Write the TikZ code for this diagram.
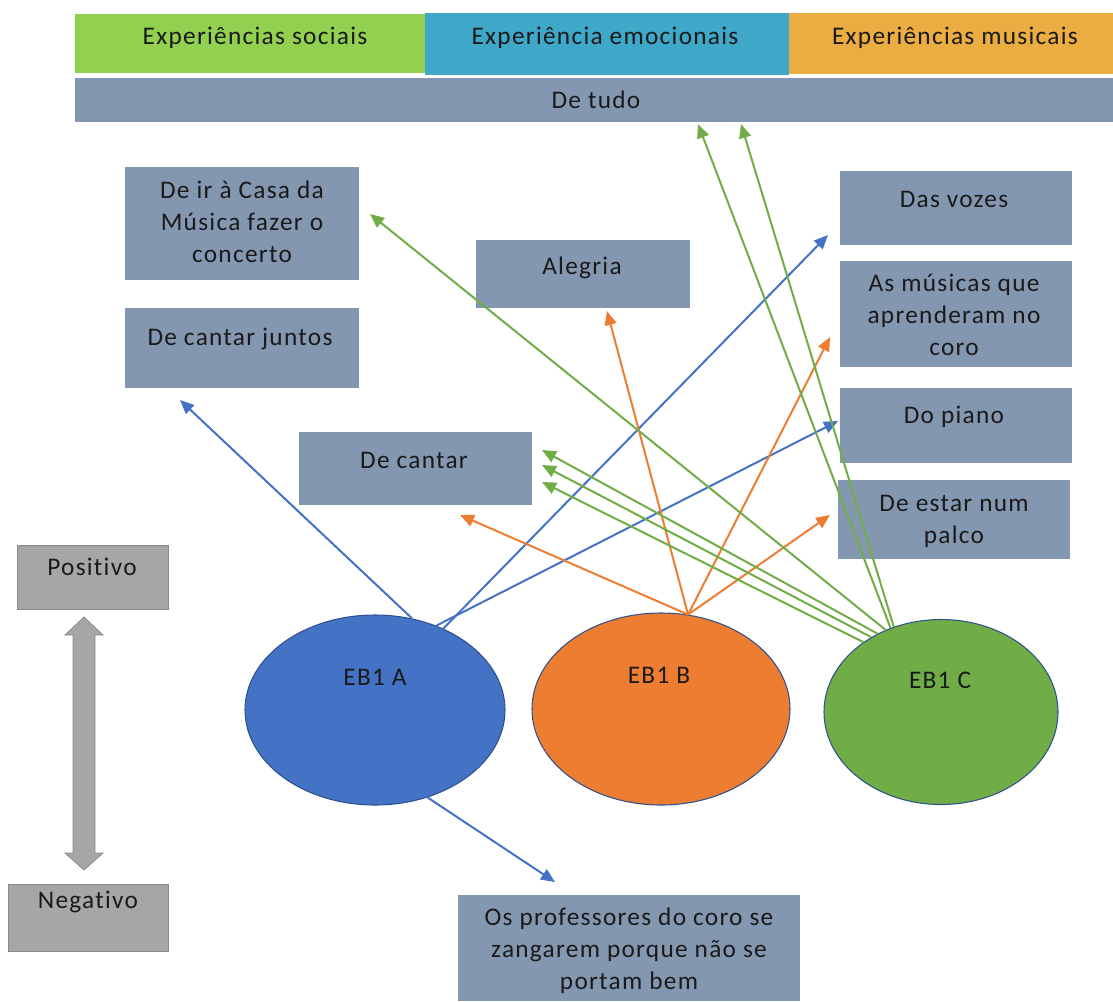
\documentclass[tikz,border=0pt]{standalone}
\usepackage{fontspec}
\setmainfont{Carlito}[LetterSpace=5, Ligatures={NoCommon}]
\usetikzlibrary{arrows.meta,shapes.geometric,fit}

\definecolor{boxgray}{HTML}{8497B0}
\definecolor{socialgreen}{HTML}{92D050}
\definecolor{emoblue}{HTML}{3FA7C7}
\definecolor{musicorange}{HTML}{EBAC42}
\definecolor{scalegray}{HTML}{A6A6A6}
\definecolor{scaleedge}{HTML}{8A8A8A}
\definecolor{groupA}{HTML}{4472C4}
\definecolor{groupB}{HTML}{ED7D31}
\definecolor{groupC}{HTML}{70AD47}
\definecolor{rimblue}{HTML}{2F528F}
\definecolor{ink}{HTML}{1A1A1A}

\tikzset{
  x=0.75pt, y=-0.75pt,
  box/.style={fill=boxgray, inner sep=0pt, outer sep=0pt},
  band/.style={inner sep=0pt, outer sep=0pt},
  graybox/.style={fill=scalegray, draw=scaleedge, line width=0.6pt, inner sep=0pt},
  txt/.style={anchor=base, text=ink, align=center, inner sep=0pt,
    font=\fontsize{19}{24}\selectfont},
  group/.style={ellipse, draw=rimblue, line width=0.8pt, inner sep=0pt},
  link/.style={line width=1.5pt, -{Triangle[length=10.5pt,width=9pt]}},
}

\begin{document}
\begin{tikzpicture}
\useasboundingbox (0,0) rectangle (1113,1001);

% category bands
\node[band, fill=socialgreen, fit={(75,14) (425,73)}] (social) {};
\node[band, fill=emoblue, fit={(425,13) (789,75)}] (emo) {};
\node[band, fill=musicorange, fit={(789,13) (1113,74)}] (music) {};
\node[txt] (social-t) at (255,44) {Experiências sociais};
\node[txt] (emo-t) at (605,44) {Experiência emocionais};
\node[txt] (music-t) at (955,44) {Experiências musicais};

\node[box, fit={(75,78) (1113,122)}] (tudo) {};
\node[txt] (tudo-t) at (596,108) {De tudo};

% answer boxes (multi-line texts are placed by their last baseline)
\node[box, fit={(125,167) (359,280)}] (casa) {};
\node[txt] (casa-t) at (242,262) {De ir à Casa da\\Música fazer o\\concerto};
\node[box, fit={(125,308) (359,388)}] (juntos) {};
\node[txt] (juntos-t) at (240,345) {De cantar juntos};
\node[box, fit={(476,240) (690,308)}] (alegria) {};
\node[txt] (alegria-t) at (582,274) {Alegria};
\node[box, fit={(840,171) (1072,245)}] (vozes) {};
\node[txt] (vozes-t) at (954,207) {Das vozes};
\node[box, fit={(840,261) (1072,367)}] (musicas) {};
\node[txt] (musicas-t) at (954,355) {As músicas que\\aprenderam no\\coro};
\node[box, fit={(840,388) (1072,463)}] (piano) {};
\node[txt] (piano-t) at (954,423) {Do piano};
\node[box, fit={(838,480) (1070,559)}] (palco) {};
\node[txt] (palco-t) at (954,543) {De estar num\\palco};
\node[box, fit={(299,432) (532,505)}] (cantar) {};
\node[txt] (cantar-t) at (414,468) {De cantar};
\node[box, fit={(458,895) (800,1001)}] (zangar) {};
\node[txt] (zangar-t) at (629,989)
  {Os professores do coro se\\zangarem porque não se\\portam bem};

% positive / negative scale
\node[graybox, fit={(17,545) (168,609)}] (pos) {};
\node[txt] (pos-t) at (92,575) {Positivo};
\node[graybox, fit={(8,884) (168,951)}] (neg) {};
\node[txt] (neg-t) at (88,908) {Negativo};
\filldraw[fill=scalegray, draw=scaleedge, line width=0.6pt]
  (84,617) -- (103,635) -- (95,635) -- (95,853) -- (103,853) -- (84,870)
  -- (65,853) -- (73,853) -- (73,635) -- (65,635) -- cycle;

% school groups
\node[group, fill=groupA, minimum width=260*0.75pt, minimum height=190*0.75pt] (A) at (375,710) {};
\node[group, fill=groupB, minimum width=258*0.75pt, minimum height=192*0.75pt] (B) at (661,709) {};
\node[group, fill=groupC, minimum width=234*0.75pt, minimum height=185*0.75pt] (C) at (941,712) {};
\node[txt] (A-t) at (375,685) {EB1 A};
\node[txt] (B-t) at (659,683) {EB1 B};
\node[txt] (C-t) at (940,688) {EB1 C};

% arrow tips
\coordinate (toJuntos) at (180,400);
\coordinate (toVozes) at (828,235);
\coordinate (toPiano) at (838,421);
\coordinate (toZangar) at (555,882);
\coordinate (toCantarB) at (460,515);
\coordinate (toAlegria) at (607,311);
\coordinate (toMusicas) at (830,337);
\coordinate (toPalco) at (830,515);
\coordinate (toCasa) at (370,214);
\coordinate (toTudo1) at (698,124);
\coordinate (toTudo2) at (741,124);
\coordinate (toCantar1) at (542,450);
\coordinate (toCantar2) at (542,465);
\coordinate (toCantar3) at (542,482);

% EB1 A
\draw[link, groupA] (A.68) -- (toJuntos);
\draw[link, groupA] (A.50) -- (toVozes);
\draw[link, groupA] (A.54) -- (toPiano);
\draw[link, groupA] (A.-59) -- (toZangar);
% EB1 B
\draw[link, groupB] (B.74) -- (toCantarB);
\draw[link, groupB] (B.74) -- (toAlegria);
\draw[link, groupB] (B.74) -- (toMusicas);
\draw[link, groupB] (B.74) -- (toPalco);
% EB1 C
\draw[link, groupC] (C.124) -- (toCasa);
\draw[link, groupC] (C.121) -- (toTudo1);
\draw[link, groupC] (C.119.5) -- (toTudo2);
\draw[link, groupC] (C.129) -- (toCantar1);
\draw[link, groupC] (C.133) -- (toCantar2);
\draw[link, groupC] (C.138) -- (toCantar3);
\end{tikzpicture}
\end{document}
